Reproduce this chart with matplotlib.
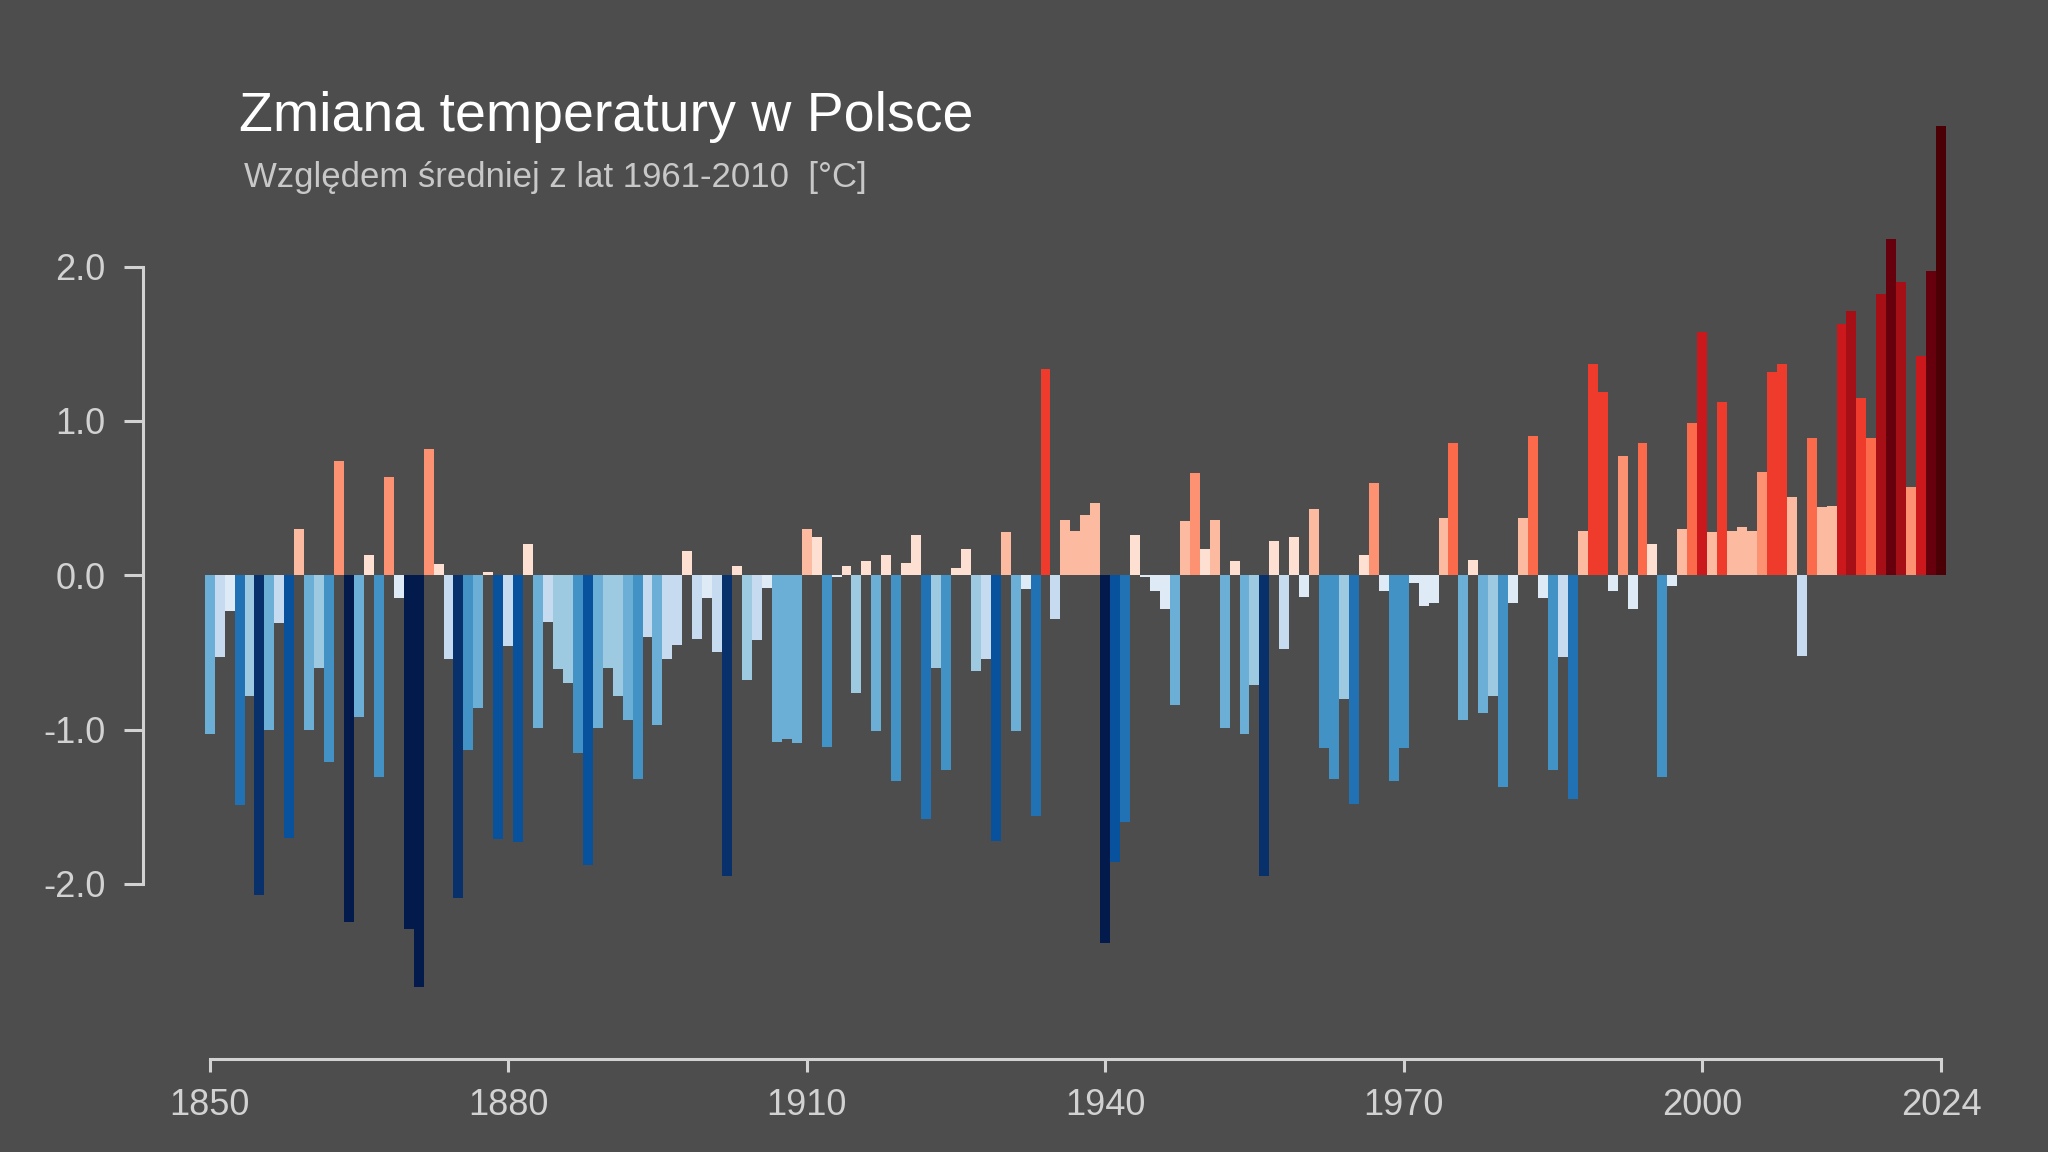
import matplotlib
matplotlib.use("Agg")
import matplotlib.pyplot as plt
from matplotlib.colors import ListedColormap, BoundaryNorm
import numpy as np


# anomalies vs 1961-2010 mean [deg C]
years = list(range(1850, 2025))
anomaly = [
    -1.03, -0.53, -0.23, -1.49, -0.78, -2.07, -1.00, -0.31, -1.70, 0.30,   # 1850s
    -1.00, -0.60, -1.21, 0.74, -2.25, -0.92, 0.13, -1.31, 0.64, -0.15,     # 1860s
    -2.29, -2.67, 0.82, 0.07, -0.54, -2.09, -1.13, -0.86, 0.02, -1.71,     # 1870s
    -0.46, -1.73, 0.20, -0.99, -0.30, -0.61, -0.70, -1.15, -1.88, -0.99,   # 1880s
    -0.60, -0.78, -0.94, -1.32, -0.40, -0.97, -0.54, -0.45, 0.16, -0.41,   # 1890s
    -0.15, -0.50, -1.95, 0.06, -0.68, -0.42, -0.08, -1.08, -1.06, -1.09,   # 1900s
    0.30, 0.25, -1.11, -0.01, 0.06, -0.76, 0.09, -1.01, 0.13, -1.33,       # 1910s
    0.08, 0.26, -1.58, -0.60, -1.26, 0.05, 0.17, -0.62, -0.54, -1.72,      # 1920s
    0.28, -1.01, -0.09, -1.56, 1.34, -0.28, 0.36, 0.29, 0.39, 0.47,        # 1930s
    -2.38, -1.86, -1.60, 0.26, -0.01, -0.10, -0.22, -0.84, 0.35, 0.66,     # 1940s
    0.17, 0.36, -0.99, 0.09, -1.03, -0.71, -1.95, 0.22, -0.48, 0.25,       # 1950s
    -0.14, 0.43, -1.12, -1.32, -0.80, -1.48, 0.13, 0.60, -0.10, -1.33,     # 1960s
    -1.12, -0.05, -0.20, -0.18, 0.37, 0.86, -0.94, 0.10, -0.89, -0.78,     # 1970s
    -1.37, -0.18, 0.37, 0.90, -0.15, -1.26, -0.53, -1.45, 0.29, 1.37,      # 1980s
    1.19, -0.10, 0.77, -0.22, 0.86, 0.20, -1.31, -0.07, 0.30, 0.99,        # 1990s
    1.58, 0.28, 1.12, 0.29, 0.31, 0.29, 0.67, 1.32, 1.37, 0.51,            # 2000s
    -0.52, 0.89, 0.44, 0.45, 1.63, 1.71, 1.15, 0.89, 1.82, 2.18,           # 2010s
    1.90, 0.57, 1.42, 1.97, 2.91,                                          # 2020s
]

x_ticks = [1850, 1880, 1910, 1940, 1970, 2000, 2024]
y_ticks = [-2.0, -1.0, 0.0, 1.0, 2.0]
y_ticklabels = ['-2.0', '-1.0', '0.0', '1.0', '2.0']

title = 'Zmiana temperatury w Polsce'
subtitle = 'Względem średniej z lat 1961-2010  [°C]'

# stripes palette, 18 classes
stripe_colors = ['#031a4d', '#08306b', '#08519c', '#2171b5', '#4292c6',
                 '#6baed6', '#9ecae1', '#c6dbef', '#deebf7',
                 '#fee0d2', '#fcbba1', '#fc9272', '#fb6a4a', '#ef3b2c',
                 '#cb181d', '#a50f15', '#67000d', '#4a0004']
step = 0.276

bg = '#4d4d4d'
fg = '#d2d2d2'

plt.rcParams['font.family'] = ['Liberation Sans', 'DejaVu Sans']

cmap = ListedColormap(stripe_colors)
bounds = np.arange(-9, 10) * step
norm = BoundaryNorm(bounds, cmap.N, clip=True)

W, H = 2048, 1152
fig = plt.figure(figsize=(W / 100, H / 100), dpi=100, facecolor=bg)

# axes placed so 1850..2024 and -2..2 land where the reference has them
px_year = 9.95
px_unit = 154.3
x0, x1 = 1843.3, 2030.0
y0, y1 = -3.135, 3.34
left_px = 209.7 - (1850 - x0) * px_year
bottom_px = 575.3 - y0 * px_unit
ax = fig.add_axes([left_px / W, 1 - bottom_px / H,
                   (x1 - x0) * px_year / W, (y1 - y0) * px_unit / H])
ax.set_facecolor(bg)

vals = np.array(anomaly)
ax.bar(years, vals, width=1.0, color=cmap(norm(vals)), linewidth=0)

ax.set_xlim(x0, x1)
ax.set_ylim(y0, y1)

for side in ['top', 'right']:
    ax.spines[side].set_visible(False)
for side in ['left', 'bottom']:
    ax.spines[side].set_color(fg)
    ax.spines[side].set_linewidth(2.2)
ax.spines['left'].set_bounds(-2, 2)
ax.spines['bottom'].set_bounds(1850, 2024)

ax.set_xticks(x_ticks)
ax.set_xticklabels([str(t) for t in x_ticks])
ax.set_yticks(y_ticks)
ax.set_yticklabels(y_ticklabels)
ax.tick_params(axis='x', length=9.5, width=2.2, color=fg, labelcolor=fg,
               labelsize=26, pad=11)
ax.tick_params(axis='y', length=14, width=2.2, color=fg, labelcolor=fg,
               labelsize=26, pad=13)

fig.text(239 / W, 1 - 131 / H, title, color='white', fontsize=40,
         ha='left', va='baseline')
fig.text(244 / W, 1 - 187 / H, subtitle, color='#c8c8c8', fontsize=25,
         ha='left', va='baseline')

fig.savefig('out.png', dpi=100, facecolor=bg)
